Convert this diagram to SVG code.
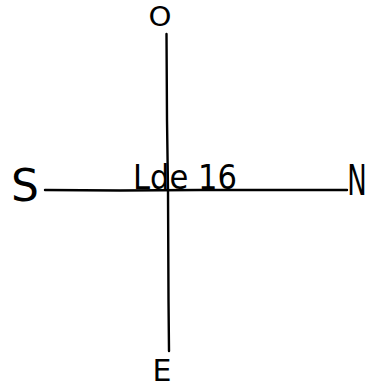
<svg xmlns="http://www.w3.org/2000/svg" width="371" height="389" viewBox="0 0 371 389">
<style>
.lbl{font-family:"DejaVu Sans","Liberation Sans",sans-serif;fill:#000;font-weight:normal}
.ln{stroke:#000;stroke-width:2.4;fill:none;stroke-linecap:round}
</style>
<rect width="371" height="389" fill="#fff"/>
<g id="connectors">
<path class="ln" d="M166.5,34 L167,120 L168,190 L168.5,300 L169,351"/>
<path class="ln" d="M45,190 L120,190.5 L200,190 L347,190"/>
</g>
<g id="node-O"><text class="lbl" x="160" y="26" font-size="27" text-anchor="middle" textLength="23" lengthAdjust="spacingAndGlyphs">O</text></g>
<g id="node-S"><text class="lbl" x="25" y="201" font-size="44" text-anchor="middle">S</text></g>
<g id="node-N"><text class="lbl" transform="translate(357,195) scale(0.62,1)" x="0" y="0" font-size="42" text-anchor="middle">N</text></g>
<g id="node-E"><text class="lbl" x="162" y="381" font-size="30" text-anchor="middle">E</text></g>
<g id="node-Lde16"><text class="lbl" x="133" y="189" font-size="34" textLength="104" lengthAdjust="spacingAndGlyphs">Lde 16</text></g>
</svg>
